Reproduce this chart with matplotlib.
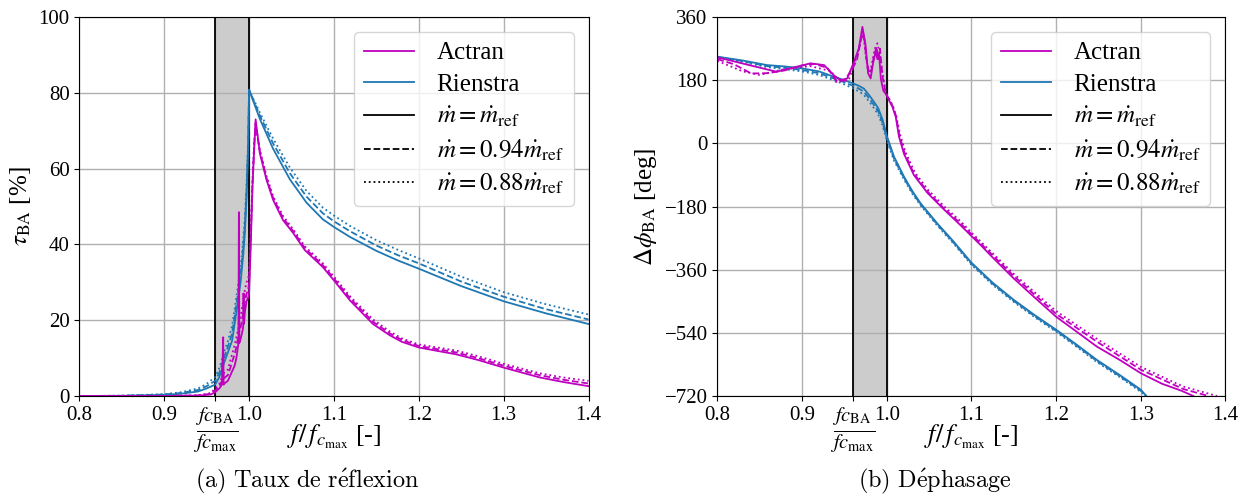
import numpy as np
import matplotlib as mpl
mpl.use('Agg')
from matplotlib import pyplot as plt
from matplotlib.lines import Line2D

plt.rcParams['font.family'] = 'serif'
plt.rcParams['font.serif'] = ['Liberation Serif', 'DejaVu Serif']
plt.rcParams['mathtext.fontset'] = 'stix'
plt.rcParams['axes.unicode_minus'] = True

C_ACTRAN = '#bf00bf'
C_RIENSTRA = '#1f77b4'
F_BAND = 0.96           # f_cBA / f_cmax

# ---- (a) Taux de reflexion : Rienstra ----
x_rie_tau = [0.80, 0.85, 0.90, 0.92, 0.94, 0.95, 0.96, 0.965, 0.97, 0.975, 0.98, 0.985,
             0.99, 0.993, 0.995, 0.997, 0.999, 1.000, 1.0127, 1.0284, 1.048, 1.0677,
             1.087, 1.10, 1.1187, 1.15, 1.175, 1.20, 1.25, 1.30, 1.35, 1.40]
tau_rie_100 = [0.0, 0.05, 0.3, 0.6, 1.2, 2.0, 3.0, 5.0, 8.4, 11.5, 14.6, 22.0,
               30.0, 37.0, 43.0, 52.0, 66.0, 80.8, 73.1, 65.2, 57.2, 51.0,
               46.6, 44.6, 42.0, 38.3, 35.8, 33.6, 29.0, 25.0, 21.8, 19.0]
tau_rie_094 = [0.0, 0.06, 0.4, 0.8, 1.6, 2.6, 4.0, 6.2, 9.8, 13.0, 16.5, 24.0,
               32.0, 39.0, 45.0, 54.0, 67.0, 80.8, 74.0, 66.6, 58.8, 52.6,
               48.2, 46.1, 43.5, 39.7, 37.2, 35.0, 30.2, 26.2, 22.9, 20.2]
tau_rie_088 = [0.0, 0.08, 0.5, 1.0, 2.0, 3.2, 5.0, 7.4, 11.2, 14.5, 18.5, 26.0,
               34.0, 41.0, 47.0, 56.0, 68.0, 80.8, 74.8, 67.9, 60.3, 54.1,
               49.7, 47.6, 44.9, 41.1, 38.6, 36.3, 31.5, 27.4, 24.2, 21.5]

# ---- (a) Taux de reflexion : Actran ----
x_act_tau = [0.80, 0.90, 0.94, 0.955, 0.96, 0.965, 0.968, 0.9695, 0.970, 0.972, 0.975,
             0.978, 0.98, 0.983, 0.985, 0.9875, 0.988, 0.9885, 0.99, 0.993, 0.9935,
             0.994, 0.995, 0.997, 0.999, 1.000, 1.002, 1.004, 1.006, 1.0077, 1.0127,
             1.0206, 1.0284, 1.040, 1.052, 1.0657, 1.087, 1.10, 1.119,
             1.146, 1.166, 1.18, 1.20, 1.244, 1.27, 1.30, 1.3425, 1.37, 1.40]
tau_act_100 = [0.0, 0.0, 0.1, 0.4, 1.0, 2.0, 3.0, 15.5, 3.0, 3.5, 4.0,
               5.5, 6.5, 8.0, 10.0, 14.0, 48.5, 14.0, 15.0, 18.0, 27.0,
               19.0, 22.0, 25.0, 26.0, 27.0, 40.0, 55.0, 65.0, 73.0, 64.0,
               57.0, 51.7, 46.4, 43.0, 38.5, 34.0, 30.5, 25.2,
               19.0, 16.0, 14.3, 12.8, 11.0, 9.5, 7.5, 4.9, 3.7, 2.6]
tau_act_094 = [0.0, 0.0, 0.15, 0.6, 1.5, 2.6, 4.0, 6.0, 4.5, 5.0, 5.5,
               7.5, 9.0, 11.0, 13.0, 16.0, 20.0, 17.0, 18.0, 22.0, 24.0,
               23.0, 25.0, 27.0, 28.0, 30.0, 42.0, 56.0, 66.0, 72.0, 64.5,
               57.5, 52.2, 47.0, 43.5, 39.0, 34.5, 31.0, 25.8,
               19.6, 16.5, 14.8, 13.2, 11.5, 10.0, 8.0, 5.5, 4.3, 3.3]
tau_act_088 = [0.0, 0.0, 0.2, 0.8, 2.0, 3.2, 5.0, 7.0, 6.0, 6.5, 7.0,
               9.5, 11.0, 13.5, 15.5, 18.0, 23.0, 20.0, 21.0, 25.0, 27.5,
               26.0, 28.0, 30.0, 31.0, 33.0, 44.0, 57.0, 67.0, 71.0, 65.0,
               58.0, 52.7, 47.5, 44.0, 39.5, 35.0, 31.5, 26.3,
               20.2, 17.0, 15.2, 13.6, 12.0, 10.5, 8.5, 6.0, 4.9, 4.0]

# ---- (b) Dephasage : Rienstra ----
x_rie_phi = [0.80, 0.83, 0.8585, 0.88, 0.90, 0.92, 0.9375, 0.95, 0.96, 0.967, 0.973,
             0.979, 0.985, 0.99, 0.995, 1.0, 1.0086, 1.0204, 1.03, 1.04, 1.05, 1.0596,
             1.079, 1.10, 1.125, 1.15, 1.175, 1.20, 1.225, 1.248, 1.275, 1.30, 1.3065]
phi_rie_100 = [247, 236, 223, 219, 213.6, 205, 190, 180, 171, 164, 156,
               138, 118, 100, 68, 22, -38, -95, -135, -171, -200, -228,
               -280, -340, -397, -446, -490, -531, -575, -617, -660, -702, -720]
phi_rie_094 = [246, 234, 220, 215, 209, 200, 185, 174, 164, 156, 147,
               129, 109, 91, 59, 15, -44, -99, -139, -174, -203, -231,
               -283, -343, -400, -449, -493, -534, -578, -620, -663, -705, -720]
phi_rie_088 = [245, 232, 217, 211, 205, 195, 180, 168, 157, 148, 138,
               120, 100, 82, 51, 9, -49, -103, -143, -177, -206, -234,
               -286, -346, -403, -452, -496, -537, -581, -623, -666, -708, -720]

# ---- (b) Dephasage : Actran ----
x_act_phi = [0.80, 0.87, 0.89, 0.91, 0.926, 0.9375, 0.9455, 0.9534, 0.9613, 0.967,
             0.9713, 0.975, 0.978, 0.981, 0.984, 0.987, 0.989, 0.991, 0.993, 0.996,
             0.999, 1.0027, 1.0067, 1.0106, 1.0145, 1.0204, 1.032, 1.048, 1.0674, 1.087,
             1.10, 1.111, 1.125, 1.15, 1.175, 1.20, 1.225, 1.248, 1.275, 1.30, 1.325,
             1.348, 1.362]
phi_act_100 = [245, 204, 216, 228, 223, 194, 180, 185, 232, 270,
               332, 280, 200, 185, 230, 262, 240, 255, 185, 150,
               140, 123, 104, 76, 19, -30, -90, -141, -188, -233,
               -264, -290, -325, -385, -440, -494, -538, -579, -617, -655, -685,
               -705, -720]
x_act_phi2 = [0.80, 0.82, 0.84, 0.86, 0.88, 0.90, 0.915, 0.93, 0.94, 0.95, 0.96, 0.965,
              0.970, 0.973, 0.976, 0.979, 0.982, 0.985, 0.988, 0.99, 0.992, 0.995, 0.999,
              1.003, 1.007, 1.011, 1.015, 1.021, 1.032, 1.048, 1.067, 1.087, 1.10, 1.125,
              1.15, 1.20, 1.25, 1.30, 1.35, 1.38]
phi_act_094 = [240, 225, 199, 200, 208, 222, 226, 215, 180, 178, 215, 240,
               300, 310, 240, 200, 210, 250, 275, 240, 270, 190, 142,
               125, 106, 78, 22, -27, -86, -137, -184, -228, -259, -319,
               -378, -486, -568, -645, -700, -720]
x_act_phi3 = [0.80, 0.83, 0.85, 0.88, 0.91, 0.935, 0.94, 0.955, 0.962, 0.968, 0.972,
              0.975, 0.978, 0.982, 0.986, 0.989, 0.992, 0.995, 0.999, 1.003, 1.007,
              1.011, 1.016, 1.022, 1.033, 1.049, 1.068, 1.088, 1.10, 1.125, 1.15, 1.20,
              1.25, 1.30, 1.35, 1.39]
phi_act_088 = [235, 205, 195, 212, 220, 205, 175, 180, 225, 280, 320,
               255, 205, 220, 270, 285, 250, 200, 145, 127, 108, 80, 24,
               -24, -82, -133, -180, -224, -254, -313, -372, -478, -560, -637, -693, -720]

fig = plt.figure(figsize=(12.4, 4.97), dpi=100)
ax1 = fig.add_axes([0.064, 0.2032, 0.4106, 0.7626])
ax2 = fig.add_axes([0.5785, 0.2032, 0.4098, 0.7626])

frac = r'$\frac{fc_{\mathrm{BA}}}{fc_{\max}}$'
lw = 1.3

def decorate(ax):
    ax.axvspan(F_BAND, 1.0, color='#cccccc', zorder=0.5)
    ax.axvline(F_BAND, color='k', lw=1.3, zorder=1.5)
    ax.axvline(1.0, color='k', lw=1.3, zorder=1.5)
    ax.set_xlim(0.8, 1.4)
    ticks = [0.8, 0.9, F_BAND, 1.0, 1.1, 1.2, 1.3, 1.4]
    ax.set_xticks(ticks)
    ax.set_xticklabels(['0.8', '0.9', frac, '1.0', '1.1', '1.2', '1.3', '1.4'])
    ax.tick_params(labelsize=15)
    ax.get_xticklabels()[2].set_fontsize(21)
    ax.grid(True, color='#b0b0b0', lw=1.0)
    ax.set_axisbelow(True)
    ax.set_xlabel(r'$f/\,f_{c_{\max}}$ [-]', fontsize=19)
    ax.xaxis.set_label_coords(0.5, -0.072)
    handles = [Line2D([], [], color=C_ACTRAN, lw=lw),
               Line2D([], [], color=C_RIENSTRA, lw=lw),
               Line2D([], [], color='k', lw=lw, ls='-'),
               Line2D([], [], color='k', lw=lw, ls='--'),
               Line2D([], [], color='k', lw=lw, ls=':')]
    labels = ['Actran', 'Rienstra',
              r'$\dot{m} = \dot{m}_{\mathrm{ref}}$',
              r'$\dot{m} = 0.94\dot{m}_{\mathrm{ref}}$',
              r'$\dot{m} = 0.88\dot{m}_{\mathrm{ref}}$']
    ax.legend(handles, labels, loc='upper right', fontsize=18, handlelength=2.0,
              handletextpad=0.9, labelspacing=0.35, borderaxespad=0.6)

# (a)
ax1.plot(x_rie_tau, tau_rie_100, color=C_RIENSTRA, lw=lw, ls='-')
ax1.plot(x_rie_tau, tau_rie_094, color=C_RIENSTRA, lw=lw, ls='--')
ax1.plot(x_rie_tau, tau_rie_088, color=C_RIENSTRA, lw=lw, ls=':')
ax1.plot(x_act_tau, tau_act_100, color=C_ACTRAN, lw=lw, ls='-')
ax1.plot(x_act_tau, tau_act_094, color=C_ACTRAN, lw=lw, ls='--')
ax1.plot(x_act_tau, tau_act_088, color=C_ACTRAN, lw=lw, ls=':')
ax1.set_ylim(0, 100)
ax1.set_yticks([0, 20, 40, 60, 80, 100])
decorate(ax1)
ax1.set_ylabel(r'$\tau_{\mathrm{BA}}$ [%]', fontsize=18)

# (b)
ax2.plot(x_rie_phi, phi_rie_100, color=C_RIENSTRA, lw=lw, ls='-')
ax2.plot(x_rie_phi, phi_rie_094, color=C_RIENSTRA, lw=lw, ls='--')
ax2.plot(x_rie_phi, phi_rie_088, color=C_RIENSTRA, lw=lw, ls=':')
ax2.plot(x_act_phi, phi_act_100, color=C_ACTRAN, lw=lw, ls='-')
ax2.plot(x_act_phi2, phi_act_094, color=C_ACTRAN, lw=lw, ls='--')
ax2.plot(x_act_phi3, phi_act_088, color=C_ACTRAN, lw=lw, ls=':')
ax2.set_ylim(-720, 360)
ax2.set_yticks([-720, -540, -360, -180, 0, 180, 360])
decorate(ax2)
ax2.set_ylabel(r'$\Delta\phi_{\mathrm{BA}}$ [deg]', fontsize=18)

fig.text(0.2476, 0.002, r'$\mathrm{(a)\ Taux\ de\ r\acute{e}flexion}$', ha='center',
         va='bottom', fontsize=17.5, math_fontfamily='cm')
fig.text(0.754, 0.002, r'$\mathrm{(b)\ D\acute{e}phasage}$', ha='center',
         va='bottom', fontsize=17.5, math_fontfamily='cm')

fig.savefig('out.png', dpi=100)
